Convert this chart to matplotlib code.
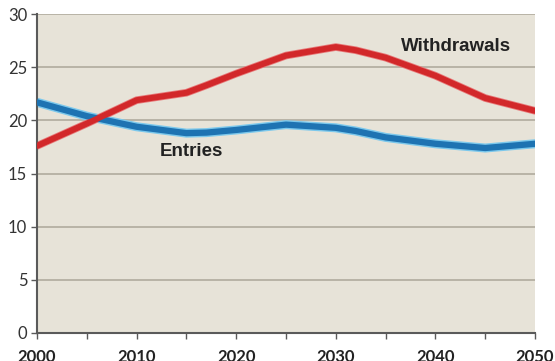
import matplotlib
matplotlib.use("Agg")
import matplotlib.pyplot as plt
import numpy as np

years = [2000, 2005, 2010, 2015, 2017, 2020, 2025, 2030, 2032, 2035, 2040, 2045, 2050]
withdrawals = [17.6, 19.7, 21.9, 22.6, 23.3, 24.4, 26.1, 26.9, 26.6, 25.9, 24.2, 22.1, 20.9]
entries = [21.7, 20.4, 19.4, 18.8, 18.85, 19.1, 19.6, 19.3, 19.0, 18.4, 17.8, 17.4, 17.8]
y_ticks = [0, 5, 10, 15, 20, 25, 30]
x_ticks = [2000, 2010, 2020, 2030, 2040, 2050]

plt.rcParams['font.family'] = ['Lato', 'DejaVu Sans']

fig = plt.figure(figsize=(5.55, 3.61), dpi=100)
ax = fig.add_axes([0.0667, 0.0776, 0.8973, 0.8834])
ax.set_facecolor('#E7E3D8')

for y in y_ticks[1:]:
    ax.axhline(y, color='#B5B0A2', lw=1.3, zorder=1)

# soft halo under each line, then the solid stroke
ax.plot(years, entries, color='#7CC8EC', lw=6.5, solid_capstyle='round',
        solid_joinstyle='round', zorder=2)
ax.plot(years, entries, color='#1E73B2', lw=4.5, solid_capstyle='round',
        solid_joinstyle='round', zorder=3)
ax.plot(years, withdrawals, color='#E77A7A', lw=5.5, solid_capstyle='round',
        solid_joinstyle='round', zorder=2)
ax.plot(years, withdrawals, color='#D2282A', lw=4.3, solid_capstyle='round',
        solid_joinstyle='round', zorder=3)

ax.text(2042.1, 26.95, 'Withdrawals', ha='center', va='center', fontsize=13.5,
        fontweight='bold', color='#222222', family=['Liberation Sans', 'DejaVu Sans'])
ax.text(2015.5, 17.1, 'Entries', ha='center', va='center', fontsize=13.5,
        fontweight='bold', color='#222222', family=['Liberation Sans', 'DejaVu Sans'])

ax.set_xlim(2000, 2050)
ax.set_ylim(0, 30)
ax.set_xticks(x_ticks)
ax.set_xticks([2005, 2015, 2025, 2035, 2045], minor=True)
ax.set_yticks(y_ticks)

for side in ('top', 'right'):
    ax.spines[side].set_visible(False)
for side in ('left', 'bottom'):
    ax.spines[side].set_color('#5A5A5A')
    ax.spines[side].set_linewidth(1.5)

ax.tick_params(axis='x', which='both', direction='out', length=4, width=1,
               color='#5A5A5A', pad=7.5)
ax.tick_params(axis='x', which='major', labelsize=12, labelcolor='#222222')
ax.tick_params(axis='y', direction='out', length=4, width=1, color='#5A5A5A',
               labelsize=12, labelcolor='#333333', pad=3)
for lbl in ax.get_xticklabels():
    lbl.set_fontweight('bold')

fig.savefig('out.png', dpi=100, facecolor='white')
